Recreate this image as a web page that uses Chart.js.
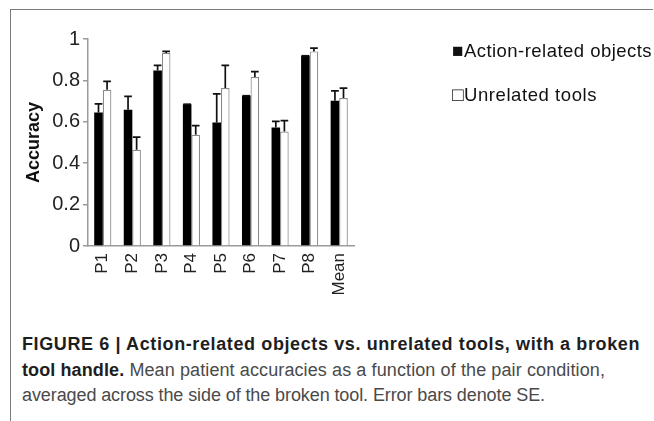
<!DOCTYPE html>
<html>
<head>
<meta charset="utf-8">
<script src="https://cdn.jsdelivr.net/npm/chart.js@4.4.0/dist/chart.umd.min.js"></script>
<style>
  html, body { margin: 0; padding: 0; background: #fff; }
  body { width: 654px; height: 421px; position: relative; overflow: hidden; }
  #frameTop { position: absolute; left: 10px; top: 9px; width: 643px; height: 0; border-top: 1.5px solid #7a7a7a; }
  #frameLeft { position: absolute; left: 10px; top: 9px; width: 0; height: 412px; border-left: 1.5px solid #7a7a7a; }
  #wrap { position: absolute; left: 0; top: 0; width: 654px; height: 320px; }
  .leg { position: absolute; left: 452px; font-family: "Liberation Sans", Arial, sans-serif; font-size: 18.5px; color: #111; white-space: nowrap; }
  .sq { font-size: 19px; }
  #caption { position: absolute; left: 22px; top: 332px; font-family: "Liberation Sans", Arial, sans-serif; font-size: 18px; line-height: 25.5px; color: #4a4a4a; white-space: nowrap; }
  #caption .ln { display: block; }
  #caption b { color: #1e1e1e; font-weight: bold; }
</style>
</head>
<body>
<div id="frameTop"></div>
<div id="frameLeft"></div>
<div id="wrap"><canvas id="c" width="654" height="320"></canvas></div>
<div class="leg fit" data-w="200" style="top:40px;"><span class="sq">■</span>Action-related objects</div>
<div class="leg fit" data-w="145" style="top:84px;"><span class="sq">□</span>Unrelated tools</div>
<div id="caption"><span class="ln fit" data-w="618"><b>FIGURE 6 | Action-related objects vs. unrelated tools, with a broken</b></span><span class="ln fit" data-w="583"><b>tool handle.</b> Mean patient accuracies as a function of the pair condition,</span><span class="ln fit" data-w="523">averaged across the side of the broken tool. Error bars denote SE.</span></div>
<script>
const categories = ["P1", "P2", "P3", "P4", "P5", "P6", "P7", "P8", "Mean"];
const seriesNames = ["Action-related objects", "Unrelated tools"];
const actionValues = [0.645, 0.658, 0.848, 0.685, 0.597, 0.726, 0.573, 0.919, 0.702];
const actionSE     = [0.042, 0.065, 0.025, 0.000, 0.138, 0.000, 0.029, 0.000, 0.047];
const toolValues   = [0.755, 0.465, 0.932, 0.537, 0.763, 0.816, 0.553, 0.940, 0.715];
const toolSE       = [0.040, 0.061, 0.008, 0.045, 0.110, 0.026, 0.053, 0.016, 0.048];
const yTicks = [0, 0.2, 0.4, 0.6, 0.8, 1];

// fit text lines to their measured widths in the reference via letter-spacing
document.querySelectorAll('.fit').forEach(el => {
  el.style.display = 'block';
  const r = document.createRange();
  r.selectNodeContents(el);
  const w = r.getBoundingClientRect().width;
  const n = el.textContent.length;
  const target = parseFloat(el.dataset.w);
  el.style.letterSpacing = ((target - w) / n).toFixed(3) + 'px';
});

const errorBars = {
  id: 'errorBars',
  afterDatasetsDraw(chart) {
    const ctx = chart.ctx;
    const y = chart.scales.y;
    chart.data.datasets.forEach((ds, di) => {
      const meta = chart.getDatasetMeta(di);
      meta.data.forEach((bar, i) => {
        const v = ds.data[i];
        const top = y.getPixelForValue(v + ds.se[i]);
        const base = y.getPixelForValue(v);
        const cx = bar.x;
        const half = bar.width * 0.45;
        ctx.save();
        ctx.strokeStyle = '#111';
        ctx.lineWidth = 1.7;
        ctx.beginPath();
        ctx.moveTo(cx, base);
        ctx.lineTo(cx, top);
        ctx.moveTo(cx - half, top);
        ctx.lineTo(cx + half, top);
        ctx.stroke();
        ctx.restore();
      });
    });
  }
};

new Chart(document.getElementById('c'), {
  type: 'bar',
  data: {
    labels: categories,
    datasets: [
      { label: seriesNames[0], data: actionValues, se: actionSE, backgroundColor: '#000', borderColor: '#000', borderWidth: 0 },
      { label: seriesNames[1], data: toolValues, se: toolSE, backgroundColor: '#fff', borderColor: '#8a8a8a', borderWidth: 1.2 }
    ]
  },
  options: {
    responsive: false,
    animation: false,
    devicePixelRatio: 1,
    layout: { padding: { left: 0, right: 300, top: 39, bottom: 0 } },
    plugins: { legend: { display: false }, tooltip: { enabled: false } },
    datasets: { bar: { categoryPercentage: 0.58, barPercentage: 1.0 } },
    scales: {
      x: {
        afterFit(s) { s.height = 74; },
        grid: { display: false, drawTicks: false },
        border: { display: true, color: '#9a9a9a', width: 1.5 },
        ticks: { minRotation: 90, maxRotation: 90, padding: 7, color: '#222', font: { family: '"Liberation Sans", Arial, sans-serif', size: 17 } }
      },
      y: {
        min: 0, max: 1,
        afterFit(s) { s.width = 88; },
        afterBuildTicks(s) { s.ticks = yTicks.map(v => ({ value: v })); },
        grid: { display: true, drawOnChartArea: false, drawTicks: true, tickLength: 5, color: '#9a9a9a', lineWidth: 1.5 },
        border: { display: true, color: '#9a9a9a', width: 1.5 },
        ticks: { padding: 3, color: '#222', font: { family: '"Liberation Sans", Arial, sans-serif', size: 20 },
                 callback: v => String(Math.round(v * 10) / 10) },
        title: { display: true, text: 'Accuracy', color: '#111', padding: { top: 23, bottom: 0 }, font: { family: '"Liberation Sans", Arial, sans-serif', size: 18, weight: 'bold' } }
      }
    }
  },
  plugins: [errorBars]
});
</script>
</body>
</html>
